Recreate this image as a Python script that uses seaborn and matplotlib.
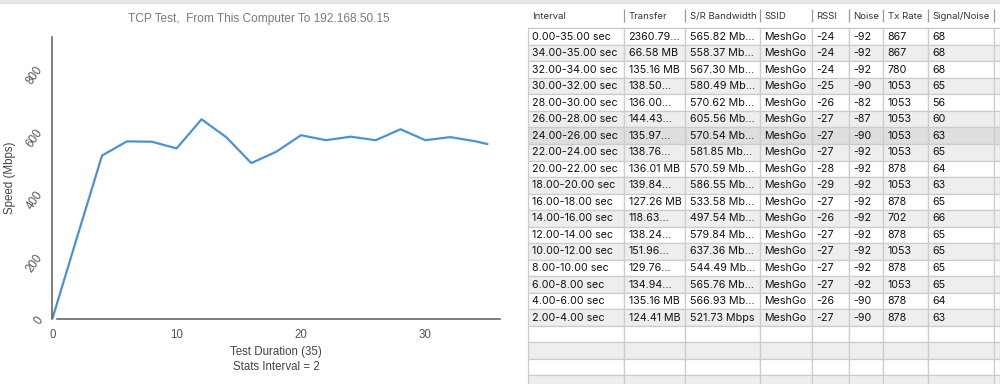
import numpy as np
import pandas as pd
import matplotlib
matplotlib.use("Agg")
import matplotlib.pyplot as plt
import seaborn as sns
from matplotlib.patches import Rectangle

# ---------------- data ----------------
time_s = [0, 2, 4, 6, 8, 10, 12, 14, 16, 18, 20, 22, 24, 26, 28, 30, 32, 34, 35]
speed_mbps = [0, 262, 521.73, 566.93, 565.76, 544.49, 637.36, 579.84, 497.54,
              533.58, 586.55, 570.59, 581.85, 570.54, 605.56, 570.62, 580.49,
              567.30, 558.37]
x_ticks = [0, 10, 20, 30]
y_ticks = [0, 200, 400, 600, 800]

headers = ["Interval", "Transfer", "S/R Bandwidth", "SSID", "RSSI", "Noise",
           "Tx Rate", "Signal/Noise", ""]
intervals = ["0.00-35.00 sec", "34.00-35.00 sec", "32.00-34.00 sec", "30.00-32.00 sec",
             "28.00-30.00 sec", "26.00-28.00 sec", "24.00-26.00 sec", "22.00-24.00 sec",
             "20.00-22.00 sec", "18.00-20.00 sec", "16.00-18.00 sec", "14.00-16.00 sec",
             "12.00-14.00 sec", "10.00-12.00 sec", "8.00-10.00 sec", "6.00-8.00 sec",
             "4.00-6.00 sec", "2.00-4.00 sec"]
transfer = ["2360.79...", "66.58 MB", "135.16 MB", "138.50...", "136.00...", "144.43...",
            "135.97...", "138.76...", "136.01 MB", "139.84...", "127.26 MB", "118.63...",
            "138.24...", "151.96...", "129.76...", "134.94...", "135.16 MB", "124.41 MB"]
bandwidth = ["565.82 Mb...", "558.37 Mb...", "567.30 Mb...", "580.49 Mb...", "570.62 Mb...",
             "605.56 Mb...", "570.54 Mb...", "581.85 Mb...", "570.59 Mb...", "586.55 Mb...",
             "533.58 Mb...", "497.54 Mb...", "579.84 Mb...", "637.36 Mb...", "544.49 Mb...",
             "565.76 Mb...", "566.93 Mb...", "521.73 Mbps"]
ssid = ["MeshGo"] * 18
rssi = ["-24", "-24", "-24", "-25", "-26", "-27", "-27", "-27", "-28", "-29",
        "-27", "-26", "-27", "-27", "-27", "-27", "-26", "-27"]
noise = ["-92", "-92", "-92", "-90", "-82", "-87", "-90", "-92", "-92", "-92",
         "-92", "-92", "-92", "-92", "-92", "-92", "-90", "-90"]
tx_rate = ["867", "867", "780", "1053", "1053", "1053", "1053", "1053", "878", "1053",
           "878", "702", "878", "1053", "878", "1053", "878", "878"]
snr = ["68", "68", "68", "65", "56", "60", "63", "65", "64", "63",
       "65", "66", "65", "65", "65", "65", "64", "63"]
n_empty_rows = 4

# ---------------- style ----------------
sns.set_theme(style="white")
plt.rcParams['font.family'] = ['Liberation Sans', 'DejaVu Sans']

W, H = 1000, 384
fig = plt.figure(figsize=(W / 100, H / 100), dpi=100)
fig.patch.set_facecolor("white")
fig.patches.append(Rectangle((0, 1 - 3 / H), 1, 3 / H, transform=fig.transFigure,
                             color="#e6e6e6", zorder=0))

# ---------------- line chart ----------------
ax = fig.add_axes([52.3 / W, 1 - 319 / H, (500 - 52.3) / W, (319 - 37) / H])
df = pd.DataFrame({"Test Duration": time_s, "Speed": speed_mbps})
sns.lineplot(data=df, x="Test Duration", y="Speed", ax=ax, color="#4d92d0", lw=1.6)
ax.set_xlim(0, 36)
ax.set_ylim(0, 900)
ax.set_xticks(x_ticks)
ax.set_yticks(y_ticks)
ax.tick_params(length=0, colors="#555555", labelsize=8.3)
ax.tick_params(axis="x", pad=7)
ax.tick_params(axis="y", pad=5)
plt.setp(ax.get_yticklabels(), rotation=55)
sns.despine(ax=ax)
for s in ("left", "bottom"):
    ax.spines[s].set_color("#5a5a5a")
    ax.spines[s].set_linewidth(1.1)
ax.spines["bottom"].set_bounds(0.4, 36)
ax.set_ylabel("Speed (Mbps)", fontsize=8.3, color="#444444", labelpad=6)
ax.set_xlabel("Test Duration (35)\nStats Interval = 2", fontsize=8.3, color="#444444",
              labelpad=4, linespacing=1.3)
fig.text(259 / W, 1 - 19 / H, "TCP Test,  From This Computer To 192.168.50.15",
         ha="center", va="center", fontsize=8.6, color="#7a7a7a")

# ---------------- table ----------------
col_px = [96.3, 61, 74.7, 52.3, 36.7, 34.3, 45, 66, 5.7]
tot_w = sum(col_px)
top_px, head_h, row_h = 5, 23.3, 16.53
n_rows = len(intervals) + n_empty_rows
tot_h = head_h + n_rows * row_h
axt = fig.add_axes([528 / W, 1 - (top_px + tot_h) / H, tot_w / W, tot_h / H])
axt.axis("off")

rows = [list(r) + [""] for r in zip(intervals, transfer, bandwidth, ssid, rssi, noise, tx_rate, snr)]
rows += [[""] * len(headers) for _ in range(n_empty_rows)]
tbl = axt.table(cellText=rows, colLabels=headers, colWidths=[w / tot_w for w in col_px],
                cellLoc="left", colLoc="left", bbox=[0, 0, 1, 1])
tbl.auto_set_font_size(False)
for (r, c), cell in tbl.get_celld().items():
    cell.PAD = 4.3 / col_px[c]
    cell.set_linewidth(0.9)
    cell.set_edgecolor("#cccccc")
    txt = cell.get_text()
    txt.set_fontfamily(["Inter", "DejaVu Sans"])
    if r == 0:
        cell.set_height(head_h / tot_h)
        cell.visible_edges = "B"
        cell.set_facecolor("white")
        txt.set_fontsize(6.9)
        txt.set_color("#333333")
    else:
        cell.set_height(row_h / tot_h)
        i = r - 1
        if i == 6:
            fc = "#dedede"
        elif i % 2 == 1:
            fc = "#eeeeee"
        else:
            fc = "white"
        cell.set_facecolor(fc)
        txt.set_fontsize(7.7)
        txt.set_color("#111111")

# header column separators
edges = np.cumsum(col_px)[:-1] / tot_w
axt.vlines(edges, 1 - (22 - top_px) / tot_h, 1 - (9 - top_px) / tot_h,
           transform=axt.transAxes, colors="#9a9a9a", lw=0.9, clip_on=False)

fig.savefig("out.png", dpi=100)
